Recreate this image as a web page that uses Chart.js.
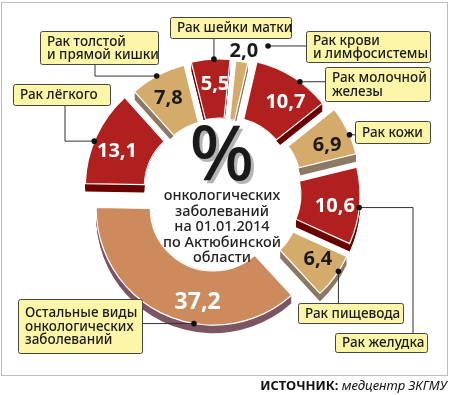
<!DOCTYPE html>
<html>
<head>
<meta charset="utf-8">
<script src="https://cdn.jsdelivr.net/npm/chart.js@4.4.1/dist/chart.umd.min.js"></script>
<style>
  html, body { margin: 0; padding: 0; background: #fff; }
  #wrap { position: relative; width: 450px; height: 395px; }
</style>
</head>
<body>
<div id="wrap"><canvas id="grafico" width="450" height="395"></canvas></div>
<script>
// ---------- данные ----------
const categorias = [
  "Остальные виды онкологических заболеваний",
  "Рак лёгкого",
  "Рак толстой и прямой кишки",
  "Рак шейки матки",
  "Рак крови и лимфосистемы",
  "Рак молочной железы",
  "Рак кожи",
  "Рак желудка",
  "Рак пищевода",
];
const valores = [37.2, 13.1, 7.8, 5.5, 2.0, 10.7, 6.9, 10.6, 6.4];
const textoCallout = [
  ["Остальные виды", "онкологических", "заболеваний"],
  ["Рак лёгкого"],
  ["Рак толстой", "и прямой кишки"],
  ["Рак шейки матки"],
  ["Рак крови", "и лимфосистемы"],
  ["Рак молочной", "железы"],
  ["Рак кожи"],
  ["Рак желудка"],
  ["Рак пищевода"],
];
const textoCentro = ["онкологических", "заболеваний", "на 01.01.2014", "по Актюбинской", "области"];
const fonte = ["ИСТОЧНИК:", " медцентр ЗКГМУ"];

// ---------- estilos ----------
const FONT = '"Noto Sans", "Open Sans", sans-serif';
const RED = "#af201e", TAN = "#d5ab6b", ORANGE = "#cd8a5c";
const coresFace = [ORANGE, RED, TAN, RED, TAN, RED, TAN, RED, TAN];
const coresLado = ["#7d5564", "#6c0000", "#8c7a66", "#6c0000", "#8c7a66", "#6c0000", "#8c7a66", "#6c0000", "#8c7a66"];
const coresTexto = ["#fff", "#fff", "#1a1a1a", "#fff", "#1a1a1a", "#fff", "#1a1a1a", "#fff", "#1a1a1a"];
const explode = [16.5, 14, 11, 12, 11, 15, 20, 18, 20];
const escalaRaio = [0.96, 1, 1, 1, 1, 1, 1, 1, 1];
const fracRotulo = [0.39, 0.45, 0.48, 0.58, 0.5, 0.6, 0.59, 0.52, 0.38];
const tamRotulo = [23, 20, 20, 20, 20, 20, 20, 20, 20];
const rotuloFora = [false, false, false, false, true, false, false, false, false];
const caixas = [
  { x: 18, y: 299, w: 124, h: 54 },
  { x: 13, y: 84, w: 97, h: 21 },
  { x: 40, y: 31, w: 118, h: 33 },
  { x: 170, y: 17, w: 121, h: 21 },
  { x: 306, y: 31, w: 124, h: 31 },
  { x: 325, y: 67, w: 105, h: 34 },
  { x: 355, y: 121, w: 75, h: 22 },
  { x: 335, y: 333, w: 92, h: 19 },
  { x: 298, y: 303, w: 105, h: 20 },
];
const cotoveloX = [null, 65, 95, null, null, null, null, 413, null];
const PROFUNDIDADE = 8;

const total = valores.reduce((a, b) => a + b, 0);
const rotacao = 271 - (valores[0] / total) * 360;

function formatar(v) {
  return v.toFixed(1).replace(".", ",");
}

function geometria(arc, i) {
  const s = arc.startAngle, e = arc.endAngle;
  const mid = (s + e) / 2;
  return {
    cx: arc.x + Math.cos(mid) * explode[i],
    cy: arc.y + Math.sin(mid) * explode[i],
    r0: arc.innerRadius,
    r1: arc.outerRadius * escalaRaio[i],
    s: s,
    e: e,
  };
}

function caminhoSetor(ctx, g, dy, gap) {
  const p1 = gap / g.r1, p0 = gap / g.r0;
  ctx.beginPath();
  ctx.arc(g.cx, g.cy + dy, g.r1, g.s + p1, g.e - p1);
  ctx.arc(g.cx, g.cy + dy, g.r0, g.e - p0, g.s + p0, true);
  ctx.closePath();
}

// anel 3D desenhado a partir dos elementos do próprio Chart.js
const anel3D = {
  id: "anel3D",
  beforeDraw(chart) {
    const ctx = chart.ctx;
    ctx.save();
    ctx.fillStyle = "#fff";
    ctx.fillRect(0, 0, chart.width, chart.height);
    ctx.strokeStyle = "#bdbdbd";
    ctx.lineWidth = 1;
    ctx.strokeRect(1.5, 2.5, 446, 373);
    ctx.restore();
  },
  beforeDatasetDraw(chart, args) {
    const ctx = chart.ctx;
    const arcs = args.meta.data;
    const geos = arcs.map((a, i) => geometria(a, i));

    // laterais
    geos.forEach((g, i) => {
      ctx.save();
      ctx.beginPath();
      ctx.rect(0, 0, chart.width, chart.height);
      ctx.arc(g.cx, g.cy, g.r0, 0, Math.PI * 2);
      ctx.clip("evenodd");
      ctx.fillStyle = coresLado[i];
      for (let k = PROFUNDIDADE; k >= 1; k--) {
        caminhoSetor(ctx, g, k, 1.5);
        ctx.fill();
      }
      ctx.restore();
    });

    // faces
    geos.forEach((g, i) => {
      ctx.save();
      caminhoSetor(ctx, g, 0, 1.5);
      ctx.fillStyle = coresFace[i];
      ctx.fill();
      ctx.strokeStyle = "#fff";
      ctx.lineWidth = 1.2;
      ctx.stroke();
      ctx.restore();
    });
    return false;
  },
  afterDatasetsDraw(chart) {
    const ctx = chart.ctx;
    const meta = chart.getDatasetMeta(0);
    const arcs = meta.data;
    const cx0 = arcs[0].x, cy0 = arcs[0].y;

    // centro
    ctx.save();
    ctx.textAlign = "center";
    ctx.textBaseline = "alphabetic";
    ctx.font = "500 76px " + FONT;
    ctx.fillStyle = "#b5b5b5";
    ctx.fillText("%", cx0 + 5, cy0 - 10);
    ctx.fillStyle = "#1a1a1a";
    ctx.fillText("%", cx0 + 2, cy0 - 13);
    ctx.font = "500 14.5px " + FONT;
    ctx.fillStyle = "#222";
    ctx.textBaseline = "middle";
    textoCentro.forEach((t, k) => ctx.fillText(t, cx0 + 2, cy0 + 3 + k * 15.5));
    ctx.restore();

    arcs.forEach((arc, i) => {
      const g = geometria(arc, i);
      const a = g.s + fracRotulo[i] * (g.e - g.s);
      let tx, ty, dx, dy;
      ctx.save();
      ctx.font = "bold " + tamRotulo[i] + "px " + FONT;
      ctx.textAlign = "center";
      ctx.textBaseline = "middle";
      const txt = formatar(valores[i]);
      if (rotuloFora[i]) {
        const r = g.r1 + 12;
        tx = g.cx + Math.cos(a) * r;
        ty = g.cy + Math.sin(a) * r;
        dx = tx + ctx.measureText(txt).width / 2 + 10;
        dy = ty - 4;
      } else {
        const r = (g.r0 + g.r1) / 2 + 5;
        tx = g.cx + Math.cos(a) * r;
        ty = g.cy + Math.sin(a) * r;
        dx = g.cx + Math.cos(a) * g.r1;
        dy = g.cy + Math.sin(a) * g.r1;
      }
      ctx.fillStyle = rotuloFora[i] ? "#1a1a1a" : coresTexto[i];
      ctx.fillText(txt, tx, ty + 1);

      // linha de chamada
      const b = caixas[i];
      ctx.strokeStyle = "#333";
      ctx.lineWidth = 1;
      ctx.beginPath();
      ctx.moveTo(dx, dy);
      if (dy >= b.y && dy <= b.y + b.h && cotoveloX[i] === null) {
        ctx.lineTo(dx < b.x ? b.x : b.x + b.w, dy);
      } else {
        const ex = cotoveloX[i] !== null ? cotoveloX[i] : dx;
        const ey = dy < b.y ? b.y : b.y + b.h;
        ctx.lineTo(ex, dy);
        ctx.lineTo(ex, ey);
      }
      ctx.stroke();
      ctx.fillStyle = "#111";
      ctx.beginPath();
      ctx.arc(dx, dy, 2.8, 0, Math.PI * 2);
      ctx.fill();

      // caixa
      ctx.beginPath();
      ctx.roundRect(b.x + 0.5, b.y + 0.5, b.w, b.h, 2);
      ctx.fillStyle = "#fdf6a8";
      ctx.fill();
      ctx.strokeStyle = "#444";
      ctx.stroke();
      ctx.font = "500 13.5px " + FONT;
      ctx.fillStyle = "#1a1a1a";
      ctx.textAlign = "left";
      const linhas = textoCallout[i];
      const lh = 13.5;
      const y0 = b.y + b.h / 2 - ((linhas.length - 1) * lh) / 2 + 1;
      linhas.forEach((l, k) => ctx.fillText(l, b.x + 7, y0 + k * lh));
      ctx.restore();
    });

    // fonte
    ctx.save();
    ctx.textBaseline = "alphabetic";
    ctx.textAlign = "left";
    ctx.font = "italic 13px " + FONT;
    const w2 = ctx.measureText(fonte[1]).width;
    ctx.font = "bold 13px " + FONT;
    const w1 = ctx.measureText(fonte[0]).width;
    const x0 = 447 - w1 - w2;
    ctx.fillStyle = "#111";
    ctx.fillText(fonte[0], x0, 390);
    ctx.font = "italic 13px " + FONT;
    ctx.fillText(fonte[1], x0 + w1, 390);
    ctx.restore();
  },
};

new Chart(document.getElementById("grafico"), {
  type: "doughnut",
  data: {
    labels: categorias,
    datasets: [{ data: valores, backgroundColor: coresFace, borderWidth: 0 }],
  },
  options: {
    responsive: false,
    animation: false,
    rotation: rotacao,
    cutout: "51.6%",
    layout: { padding: { left: 98, top: 71, right: 108, bottom: 80 } },
    events: [],
    plugins: { legend: { display: false }, tooltip: { enabled: false } },
  },
  plugins: [anel3D],
});
</script>
</body>
</html>
